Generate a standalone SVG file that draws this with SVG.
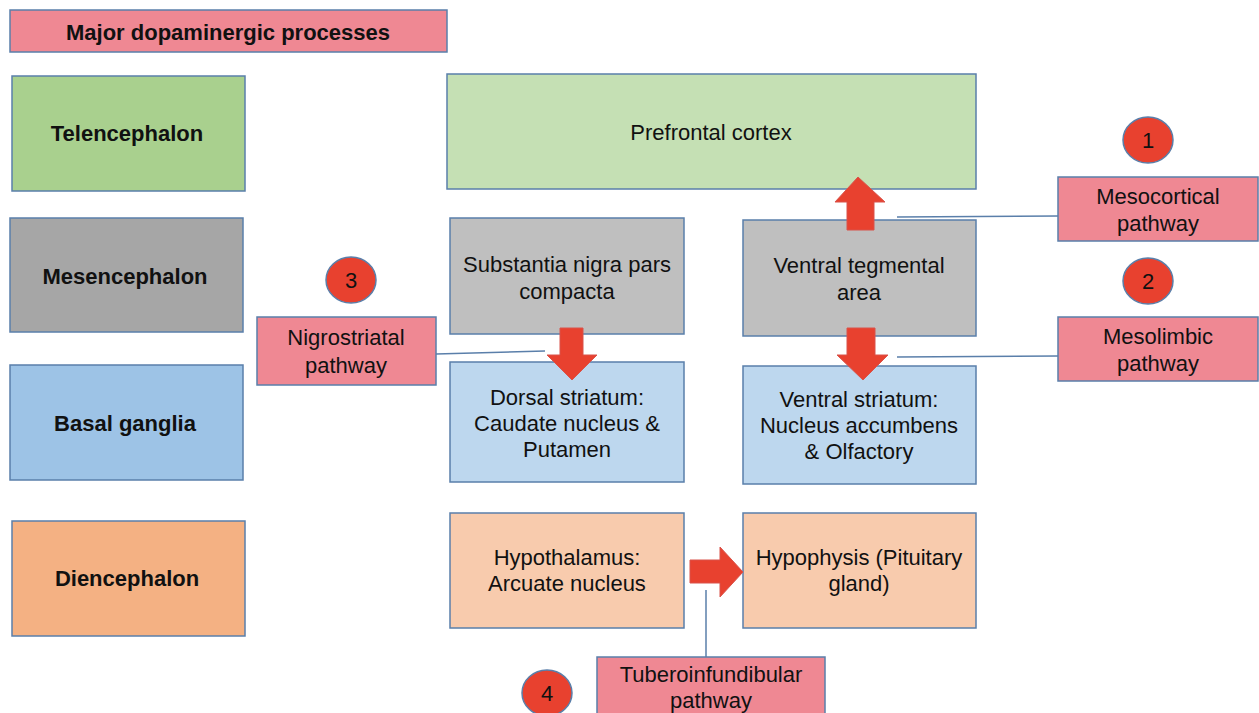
<svg xmlns="http://www.w3.org/2000/svg" width="1259" height="713" viewBox="0 0 1259 713">
<style>
.box{stroke:#5a7faa;stroke-width:1.5}
.t{font-family:"Liberation Sans",Arial,sans-serif;font-size:22px;fill:#111;text-anchor:middle;dominant-baseline:central}
.b{font-weight:bold}
.p{font-size:22px}
.pw{fill:#ef8893}
.arr{fill:#e8412f;stroke:#d9534a;stroke-width:1}
.ln{stroke:#5a7faa;stroke-width:1.5;fill:none}
.c{fill:#e8412f;stroke:#5a7faa;stroke-width:1.5}
</style>
<rect width="1259" height="713" fill="#fff"/>
<g id="title"><rect class="box pw" x="10" y="10" width="437" height="42"/><text class="t b" x="228" y="32">Major dopaminergic processes</text></g>
<g id="telencephalon"><rect class="box" fill="#a9d08e" x="12" y="76" width="233" height="115"/><text class="t b" x="127" y="133">Telencephalon</text></g>
<g id="mesencephalon"><rect class="box" fill="#a6a6a6" x="10" y="218" width="233" height="114"/><text class="t b" x="125" y="276">Mesencephalon</text></g>
<g id="basal-ganglia"><rect class="box" fill="#9dc3e6" x="10" y="365" width="233" height="115"/><text class="t b" x="125" y="423">Basal ganglia</text></g>
<g id="diencephalon"><rect class="box" fill="#f4b183" x="12" y="521" width="233" height="115"/><text class="t b" x="127" y="578">Diencephalon</text></g>
<g id="prefrontal"><rect class="box" fill="#c5e0b4" x="447" y="74" width="529" height="115"/><text class="t" x="711" y="132">Prefrontal cortex</text></g>
<g id="substantia"><rect class="box" fill="#bfbfbf" x="450" y="218" width="234" height="116"/><text class="t" x="567" y="264">Substantia nigra pars</text><text class="t" x="567" y="291">compacta</text></g>
<g id="vta"><rect class="box" fill="#bfbfbf" x="743" y="220" width="233" height="116"/><text class="t" x="859" y="265">Ventral tegmental</text><text class="t" x="859" y="292">area</text></g>
<g id="dorsal"><rect class="box" fill="#bdd7ee" x="450" y="362" width="234" height="120"/><text class="t" x="567" y="397">Dorsal striatum:</text><text class="t" x="567" y="423">Caudate nucleus &amp;</text><text class="t" x="567" y="449">Putamen</text></g>
<g id="ventral"><rect class="box" fill="#bdd7ee" x="743" y="366" width="233" height="118"/><text class="t" x="859" y="399">Ventral striatum:</text><text class="t" x="859" y="425">Nucleus accumbens</text><text class="t" x="859" y="451">&amp; Olfactory</text></g>
<g id="hypothalamus"><rect class="box" fill="#f8cbad" x="450" y="513" width="234" height="115"/><text class="t" x="567" y="557">Hypothalamus:</text><text class="t" x="567" y="583">Arcuate nucleus</text></g>
<g id="hypophysis"><rect class="box" fill="#f8cbad" x="743" y="513" width="233" height="115"/><text class="t" x="859" y="557">Hypophysis (Pituitary</text><text class="t" x="859" y="583">gland)</text></g>
<g id="connectors">
<line class="ln" x1="897" y1="217" x2="1058" y2="216"/>
<line class="ln" x1="897" y1="357" x2="1058" y2="356"/>
<line class="ln" x1="436" y1="354" x2="545" y2="351"/>
<line class="ln" x1="706" y1="590" x2="706" y2="657"/>
<polygon class="arr" points="847,230 847,202 835,202 858,177 885,202 874,202 874,230"/>
<polygon class="arr" points="847,328 875,328 875,355 888,355 863,380 837,355 847,355"/>
<polygon class="arr" points="560,328 583,328 583,355 597,355 572,380 547,355 560,355"/>
<polygon class="arr" points="690,560 720,560 720,547 743,572 720,597 720,583 690,583"/>
</g>
<g id="mesocortical"><rect class="box pw" x="1058" y="177" width="200" height="64"/><text class="t p" x="1158" y="196">Mesocortical</text><text class="t p" x="1158" y="223">pathway</text></g>
<g id="mesolimbic"><rect class="box pw" x="1058" y="317" width="200" height="64"/><text class="t p" x="1158" y="336">Mesolimbic</text><text class="t p" x="1158" y="363">pathway</text></g>
<g id="nigrostriatal"><rect class="box pw" x="257" y="317" width="179" height="68"/><text class="t p" x="346" y="337">Nigrostriatal</text><text class="t p" x="346" y="365">pathway</text></g>
<g id="tubero"><rect class="box pw" x="597" y="657" width="228" height="60"/><text class="t p" x="711" y="674">Tuberoinfundibular</text><text class="t p" x="711" y="700">pathway</text></g>
<g id="n1"><ellipse class="c" cx="1148" cy="140" rx="25" ry="23"/><text class="t" x="1148" y="140">1</text></g>
<g id="n2"><ellipse class="c" cx="1148" cy="281" rx="25" ry="23"/><text class="t" x="1148" y="281">2</text></g>
<g id="n3"><ellipse class="c" cx="351" cy="280" rx="25" ry="23"/><text class="t" x="351" y="280">3</text></g>
<g id="n4"><ellipse class="c" cx="547" cy="693" rx="25" ry="23"/><text class="t" x="547" y="693">4</text></g>
</svg>
